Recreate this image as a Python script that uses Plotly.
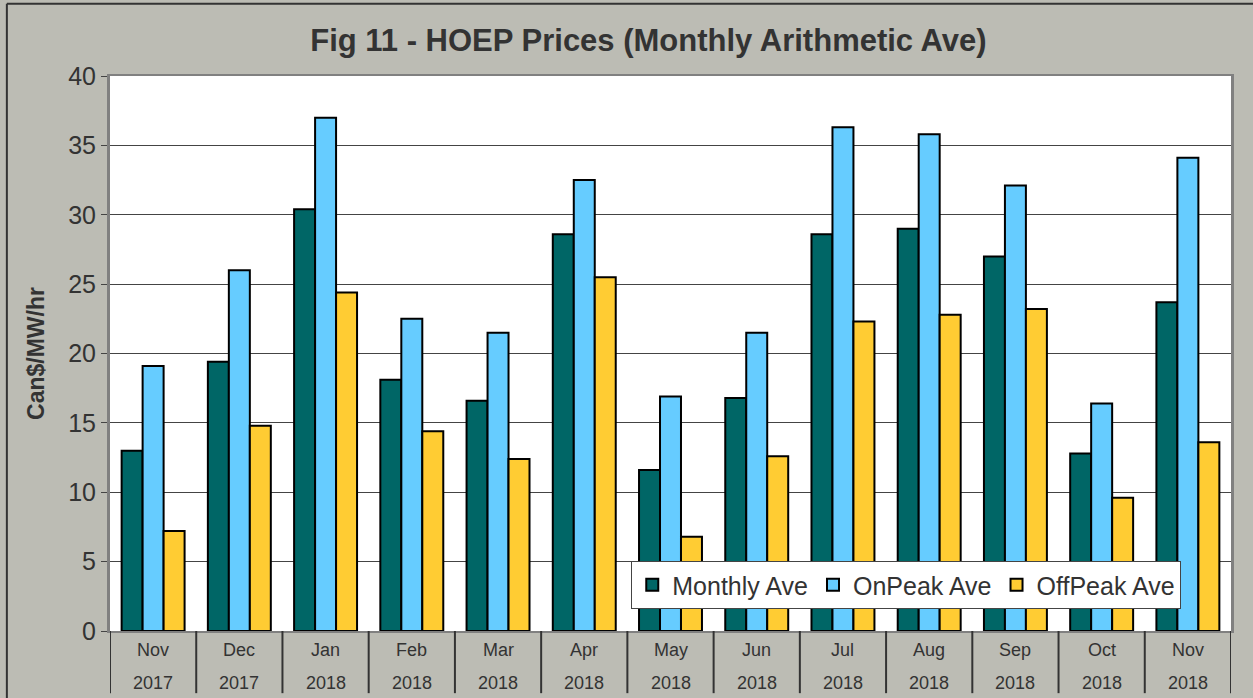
import plotly.graph_objects as go

months = ["Nov", "Dec", "Jan", "Feb", "Mar", "Apr", "May", "Jun", "Jul", "Aug", "Sep", "Oct", "Nov"]
years = ["2017", "2017", "2018", "2018", "2018", "2018", "2018", "2018", "2018", "2018", "2018", "2018", "2018"]
monthly_ave = [13.0, 19.4, 30.4, 18.1, 16.6, 28.6, 11.6, 16.8, 28.6, 29.0, 27.0, 12.8, 23.7]
onpeak_ave = [19.1, 26.0, 37.0, 22.5, 21.5, 32.5, 16.9, 21.5, 36.3, 35.8, 32.1, 16.4, 34.1]
offpeak_ave = [7.2, 14.8, 24.4, 14.4, 12.4, 25.5, 6.8, 12.6, 22.3, 22.8, 23.2, 9.6, 13.6]
y_ticks = [0, 5, 10, 15, 20, 25, 30, 35, 40]

FONT = "Liberation Sans, Arial, sans-serif"
TXT = "#333333"
xpos = list(range(len(months)))

fig = go.Figure()
for name, vals, col in [("Monthly Ave", monthly_ave, "#006666"),
                        ("OnPeak Ave", onpeak_ave, "#66CCFF"),
                        ("OffPeak Ave", offpeak_ave, "#FFCC33")]:
    fig.add_trace(go.Bar(x=xpos, y=vals, name=name,
                         marker=dict(color=col, line=dict(color="black", width=2))))

# category labels (two rows) and dividers
for i, (m, yv) in enumerate(zip(months, years)):
    fig.add_annotation(x=i, y=-0.034, xref="x", yref="paper", text=m, showarrow=False,
                       font=dict(family=FONT, size=18, color=TXT), yanchor="middle")
    fig.add_annotation(x=i, y=-0.094, xref="x", yref="paper", text=yv, showarrow=False,
                       font=dict(family=FONT, size=18, color=TXT), yanchor="middle")
for k in range(len(months) + 1):
    fig.add_shape(type="line", xref="x", yref="paper", x0=k - 0.5, x1=k - 0.5,
                  y0=0, y1=-0.112, line=dict(color="#333333", width=2))

# outer frame lines (top and left)
fig.add_shape(type="line", xref="paper", yref="paper", x0=-0.092, x1=1.05, y0=1.13, y1=1.13,
              line=dict(color="#333333", width=2))
fig.add_shape(type="line", xref="paper", yref="paper", x0=-0.092, x1=-0.092, y0=1.13, y1=-0.2,
              line=dict(color="#333333", width=2))

fig.update_layout(
    width=1253, height=698,
    margin=dict(l=110, r=22, t=76, b=67, autoexpand=False),
    paper_bgcolor="#BCBCB4", plot_bgcolor="white",
    font=dict(family=FONT, color=TXT),
    title=dict(text="<b>Fig 11 - HOEP Prices (Monthly Arithmetic Ave)</b>", x=0.5175, xanchor="center",
               y=0.943, yanchor="middle", font=dict(family=FONT, size=31, color=TXT)),
    barmode="group", bargap=0.27, bargroupgap=0,
    showlegend=True,
    legend=dict(orientation="h", x=0.465, y=0.126, xanchor="left", yanchor="top",
                bgcolor="white", bordercolor="#444444", borderwidth=1,
                font=dict(family=FONT, size=25, color=TXT), traceorder="normal"),
    xaxis=dict(range=[-0.5, len(months) - 0.5], showticklabels=False, showgrid=False,
               zeroline=False, showline=True, linecolor="#808080", linewidth=2, mirror=True,
               fixedrange=True),
    yaxis=dict(range=[0, 40], tickvals=y_ticks, showgrid=True, gridcolor="#444444", gridwidth=1,
               zeroline=False, showline=True, linecolor="#808080", linewidth=3, mirror=True,
               ticks="outside", ticklen=6, tickcolor="#444444",
               tickfont=dict(family=FONT, size=25, color=TXT),
               title=dict(text="<b>Can$/MW/hr</b>", standoff=18,
                          font=dict(family=FONT, size=23, color=TXT))),
)

fig.write_html("out.html", config={"displayModeBar": False},
               post_script="document.body.style.margin='0';")
